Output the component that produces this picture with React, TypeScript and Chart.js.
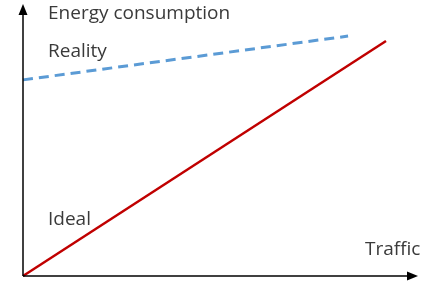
import React, { useEffect, useRef } from "react";
import { Chart, registerables } from "chart.js";

Chart.register(...registerables);

// Data (x: traffic 0..100, y: energy 0..100)
const idealX = [0, 91.9];
const idealY = [0, 86.4];
const realityX = [0, 82.3];
const realityY = [72.1, 88.2];
const axisLabels = ["Energy consumption", "Traffic"];
const seriesLabels = ["Reality", "Ideal"];

const TEXT_COLOR = "#3a3a3a";
const FONT = "19px 'Open Sans'";

const overlay = {
  id: "overlay",
  afterDraw(chart: any) {
    const ctx = chart.ctx as CanvasRenderingContext2D;
    const xs = chart.scales.x;
    const ys = chart.scales.y;
    const x0 = xs.getPixelForValue(0);
    const x1 = xs.getPixelForValue(100);
    const y0 = ys.getPixelForValue(0);
    const y1 = ys.getPixelForValue(100);
    ctx.save();
    ctx.strokeStyle = "#000";
    ctx.fillStyle = "#000";
    ctx.lineWidth = 1.5;
    // x axis
    ctx.beginPath();
    ctx.moveTo(x0, y0);
    ctx.lineTo(x1 - 8, y0);
    ctx.stroke();
    ctx.beginPath();
    ctx.moveTo(x1, y0);
    ctx.lineTo(x1 - 11, y0 - 4.5);
    ctx.lineTo(x1 - 11, y0 + 4.5);
    ctx.closePath();
    ctx.fill();
    // y axis
    ctx.beginPath();
    ctx.moveTo(x0, y0);
    ctx.lineTo(x0, y1 + 8);
    ctx.stroke();
    ctx.beginPath();
    ctx.moveTo(x0, y1);
    ctx.lineTo(x0 - 4.5, y1 + 11);
    ctx.lineTo(x0 + 4.5, y1 + 11);
    ctx.closePath();
    ctx.fill();

    ctx.fillStyle = TEXT_COLOR;
    ctx.font = FONT;
    ctx.textBaseline = "alphabetic";
    ctx.textAlign = "left";
    ctx.fillText(axisLabels[0], 48, 19);
    ctx.fillText(seriesLabels[0], 48, 57);
    ctx.fillText(seriesLabels[1], 48, 225);
    ctx.fillText(axisLabels[1], 365, 255);
    ctx.restore();
  },
};

export default function App() {
  const ref = useRef<HTMLCanvasElement>(null);
  useEffect(() => {
    document.body.style.margin = "0";
    const chart = new Chart(ref.current!, {
      type: "line",
      data: {
        datasets: [
          {
            label: seriesLabels[0],
            data: realityX.map((x, i) => ({ x, y: realityY[i] })),
            borderColor: "#5B9BD5",
            borderWidth: 3,
            borderDash: [10, 6],
            pointRadius: 0,
            clip: false as any,
          },
          {
            label: seriesLabels[1],
            data: idealX.map((x, i) => ({ x, y: idealY[i] })),
            borderColor: "#C00000",
            borderWidth: 2.5,
            pointRadius: 0,
            clip: false as any,
          },
        ],
      },
      options: {
        animation: false,
        responsive: false,
        layout: { padding: { left: 23, right: 4, top: 4, bottom: 11 } },
        plugins: { legend: { display: false }, tooltip: { enabled: false } },
        scales: {
          x: { type: "linear", min: 0, max: 100, display: false },
          y: { type: "linear", min: 0, max: 100, display: false },
        },
      },
      plugins: [overlay],
    });
    return () => chart.destroy();
  }, []);
  return (
    <div style={{ width: 422, height: 287, background: "#fff" }}>
      <canvas ref={ref} width={422} height={287} />
    </div>
  );
}
